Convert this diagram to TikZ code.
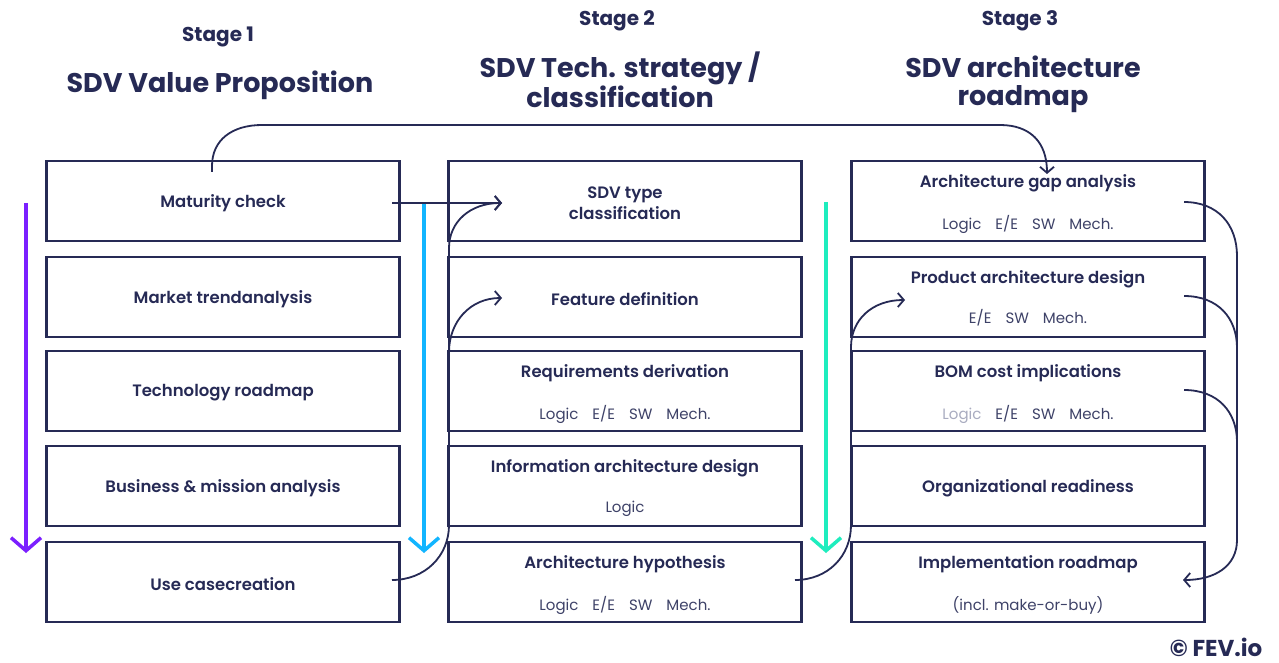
\documentclass[tikz,border=0pt]{standalone}
\usepackage{fontspec}
\setmainfont{Poppins}
\newfontfamily\semib{Poppins}[UprightFont=* SemiBold]
\usetikzlibrary{arrows.meta}
\definecolor{navy}{HTML}{262A55}
\definecolor{tagc}{HTML}{3E4268}
\definecolor{greyc}{HTML}{A9ACC0}
\definecolor{purp}{HTML}{7B1FFF}
\definecolor{skyb}{HTML}{12B5FF}
\definecolor{tealc}{HTML}{1EEDBE}
\newcommand{\tagsp}{\hspace{14pt}}
\begin{document}
\begin{tikzpicture}[x=1pt,y=-1pt,
 box/.style={draw=navy, line width=2.2pt, minimum width=353pt, minimum height=80pt, inner sep=0pt},
 ttl/.style={text=navy, font=\fontsize{16.5}{21}\semib, align=center},
 tag/.style={text=tagc, font=\fontsize{15}{18}\selectfont},
 stage/.style={text=navy, font=\fontsize{20}{22}\selectfont\bfseries},
 big/.style={text=navy, font=\fontsize{27}{28}\selectfont\bfseries, align=center},
 conn/.style={draw=navy, line width=1.8pt},
 tip/.style={-{Straight Barb[length=6pt,width=14pt]}},
 flow/.style={line width=3.5pt, -{Straight Barb[length=13pt,width=30pt]}}]
\useasboundingbox[fill=white] (0,0) rectangle (1279,663);
% headings
\node[stage] (s1) at (218,37) {Stage 1};
\node[big] (t1) at (220,85) {SDV Value Proposition};
\node[stage] (s2) at (617,21) {Stage 2};
\node[big] (t2) at (620,80) {SDV Tech. strategy /\\classification};
\node[stage] (s3) at (1020,21) {Stage 3};
\node[big] (t3) at (1023,84) {SDV architecture\\roadmap};
% column 1
\node[box,ttl] (mat) at (223,201) {};
\node[ttl] (matT) at (223,203) {Maturity check};
\node[box] (mkt) at (223,297) {};
\node[ttl] (mktT) at (223,299) {Market trendanalysis};
\node[box] (tech) at (223,391) {};
\node[ttl] (techT) at (223,393) {Technology roadmap};
\node[box] (bus) at (223,486) {};
\node[ttl] (busT) at (223,488) {Business \& mission analysis};
\node[box] (use) at (223,582) {};
\node[ttl] (useT) at (223,584) {Use casecreation};
% column 2
\node[box] (sdv) at (625,201) {};
\node[ttl] (sdvT) at (625,203) {SDV type\\classification};
\node[box] (feat) at (625,297) {};
\node[ttl] (featT) at (625,299) {Feature definition};
\node[box] (req) at (625,391) {};
\node[ttl] (reqT) at (625,373) {Requirements derivation};
\node[tag] (reqG) at (625,414) {Logic\tagsp E/E\tagsp SW\tagsp Mech.};
\node[box] (info) at (625,486) {};
\node[ttl] (infoT) at (625,468) {Information architecture design};
\node[tag] (infoG) at (625,509) {Logic};
\node[box] (hyp) at (625,582) {};
\node[ttl] (hypT) at (625,564) {Architecture hypothesis};
\node[tag] (hypG) at (625,605) {Logic\tagsp E/E\tagsp SW\tagsp Mech.};
% column 3
\node[box] (gap) at (1028,201) {};
\node[ttl] (gapT) at (1028,183) {Architecture gap analysis};
\node[tag] (gapG) at (1028,224) {Logic\tagsp E/E\tagsp SW\tagsp Mech.};
\node[box] (prod) at (1028,297) {};
\node[ttl] (prodT) at (1028,279) {Product architecture design};
\node[tag] (prodG) at (1028,318) {E/E\tagsp SW\tagsp Mech.};
\node[box] (bom) at (1028,391) {};
\node[ttl] (bomT) at (1028,373) {BOM cost implications};
\node[tag] (bomG) at (1028,414) {\textcolor{greyc}{Logic}\tagsp E/E\tagsp SW\tagsp Mech.};
\node[box] (org) at (1028,486) {};
\node[ttl] (orgT) at (1028,488) {Organizational readiness};
\node[box] (impl) at (1028,582) {};
\node[ttl] (implT) at (1028,564) {Implementation roadmap};
\node[tag] (implG) at (1028,605) {(incl. make-or-buy)};
% copyright
\node[text=navy, font=\fontsize{23}{24}\selectfont\bfseries] (copy) at (1216,647) {© FEV.io};
% flow arrows
\coordinate (p1a) at (26,203); \coordinate (p1b) at (26,553);
\coordinate (p2a) at (424,204); \coordinate (p2b) at (424,553);
\coordinate (p3a) at (826,202); \coordinate (p3b) at (826,553);
\draw[flow,purp] (p1a) -- (p1b);
\draw[flow,skyb] (p2a) -- (p2b);
\draw[flow,tealc] (p3a) -- (p3b);
% connectors
\coordinate (topS) at (212,172); \coordinate (topE) at (1047,174);
\draw[conn,tip] (topS) -- (212,166) .. controls (212,140) and (232,125) .. (262,125) -- (1000,125) .. controls (1030,125) and (1047,142) .. (topE);
\coordinate (matS) at (392,203); \coordinate (sdvE) at (502,203);
\draw[conn,tip] (matS) -- (sdvE);
\coordinate (useS) at (392,580);
\draw[conn,tip] (useS) .. controls (425,580) and (449,556) .. (449,525) -- (449,248) .. controls (449,222) and (470,203) .. (sdvE);
\coordinate (featE) at (502,298);
\draw[conn,tip] (449,352) .. controls (449,322) and (470,298) .. (featE);
\coordinate (hypS) at (795,580); \coordinate (prodE) at (905,300);
\draw[conn,tip] (hypS) .. controls (828,580) and (851,556) .. (851,525) -- (851,347) .. controls (851,320) and (872,300) .. (prodE);
\coordinate (gapS) at (1184,202); \coordinate (implE) at (1183,580);
\draw[conn,tip] (gapS) .. controls (1218,202) and (1237,225) .. (1237,256) -- (1237,540) .. controls (1237,566) and (1215,580) .. (implE);
\coordinate (prodS) at (1184,296); \coordinate (bomS) at (1184,390);
\draw[conn] (prodS) .. controls (1218,296) and (1237,318) .. (1237,348);
\draw[conn] (bomS) .. controls (1218,390) and (1237,412) .. (1237,442);
\end{tikzpicture}
\end{document}
